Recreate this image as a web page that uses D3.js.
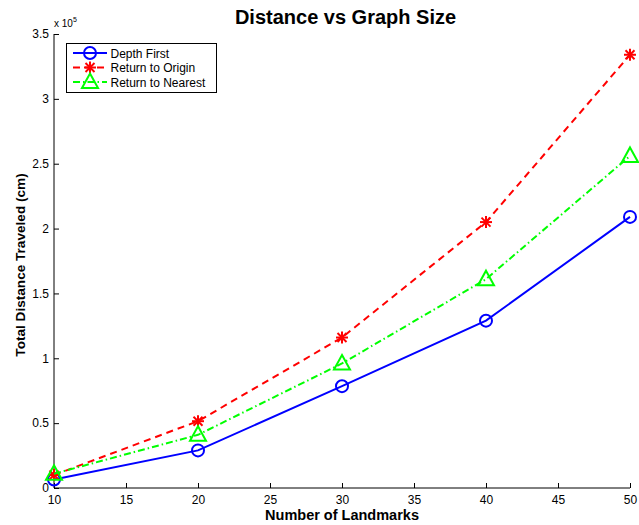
<!DOCTYPE html>
<html><head><meta charset="utf-8">
<script src="https://cdn.jsdelivr.net/npm/d3@7"></script>
<style>body{margin:0;background:#fff;} text{font-family:"Liberation Sans",Arial,sans-serif;}</style>
</head><body><svg id="c" width="639" height="525"></svg>
<script>
const landmarks = [10, 20, 30, 40, 50];
const depthFirst = [0.065, 0.29, 0.785, 1.29, 2.09];
const returnOrigin = [0.10, 0.515, 1.16, 2.05, 3.34];
const returnNearest = [0.11, 0.41, 0.96, 1.61, 2.56];
const xTicks = [10, 15, 20, 25, 30, 35, 40, 45, 50];
const yTicks = [0, 0.5, 1, 1.5, 2, 2.5, 3, 3.5];
const seriesNames = ["Depth First", "Return to Origin", "Return to Nearest"];

const svg = d3.select("#c");
const L = 54, R = 630, T = 34, B = 488;
const x = d3.scaleLinear().domain([10, 50]).range([L, R]);
const y = d3.scaleLinear().domain([0, 3.5]).range([B, T]);

const series = [
  {name: seriesNames[0], vals: depthFirst, color: "#0000ff", dash: null, marker: "circle"},
  {name: seriesNames[1], vals: returnOrigin, color: "#ff0000", dash: "7,5", marker: "star"},
  {name: seriesNames[2], vals: returnNearest, color: "#00ff00", dash: "7,3,1.5,3", marker: "triangle"}
];

// axes
const xAxis = d3.axisBottom(x).tickValues(xTicks).tickSize(-5).tickPadding(7.5).tickFormat(d3.format("d"));
const gx = svg.append("g").attr("transform", `translate(0,${B})`).call(xAxis);
const yAxis = d3.axisLeft(y).tickValues(yTicks).tickSize(-5).tickPadding(5).tickFormat(d => d === 0 ? "0" : String(d));
const gy = svg.append("g").attr("transform", `translate(${L},0)`).call(yAxis);
[gx, gy].forEach(g => {
  g.select(".domain").attr("stroke", "#000").attr("stroke-width", 1);
  g.selectAll(".tick line").attr("stroke", "#000");
  g.selectAll(".tick text").attr("font-size", 12).attr("fill", "#000").attr("font-family", "Liberation Sans, Arial, sans-serif");
});
gy.select(".domain").attr("d", `M0,${B}V${T}`);
gx.select(".domain").attr("d", `M${L},0H${R}`);

// exponent
const ex = svg.append("text").attr("x", 54).attr("y", 27).attr("font-size", 10);
ex.append("tspan").text("x 10");
ex.append("tspan").attr("font-size", 7).attr("dy", -5).text("5");

function drawMarker(g, type, cx, cy, color) {
  if (type === "circle") {
    g.append("circle").attr("cx", cx).attr("cy", cy).attr("r", 6).attr("fill", "none").attr("stroke", color).attr("stroke-width", 2);
  } else if (type === "star") {
    const s = 6;
    const p = [[-s,0,s,0],[0,-s,0,s],[-s*0.75,-s*0.75,s*0.75,s*0.75],[-s*0.75,s*0.75,s*0.75,-s*0.75]];
    p.forEach(q => g.append("line").attr("x1", cx+q[0]).attr("y1", cy+q[1]).attr("x2", cx+q[2]).attr("y2", cy+q[3]).attr("stroke", color).attr("stroke-width", 2));
  } else {
    g.append("path").attr("d", `M${cx},${cy-8.5}L${cx+8},${cy+6}L${cx-8},${cy+6}Z`).attr("fill", "none").attr("stroke", color).attr("stroke-width", 2);
  }
}

const line = d3.line().x((d, i) => x(landmarks[i])).y(d => y(d));
series.forEach(s => {
  svg.append("path").datum(s.vals).attr("d", line).attr("fill", "none").attr("stroke", s.color)
    .attr("stroke-width", 2).attr("stroke-dasharray", s.dash);
  const g = svg.append("g");
  s.vals.forEach((v, i) => drawMarker(g, s.marker, x(landmarks[i]), y(v), s.color));
});

// title and labels
svg.append("text").attr("x", 345.5).attr("y", 23.5).attr("text-anchor", "middle").attr("font-size", 20).attr("font-weight", "bold").text("Distance vs Graph Size");
svg.append("text").attr("x", 342).attr("y", 520).attr("text-anchor", "middle").attr("font-size", 14.5).attr("font-weight", "bold").text("Number of Landmarks");
svg.append("text").attr("transform", `translate(25,265) rotate(-90)`).attr("text-anchor", "middle").attr("font-size", 13.6).attr("font-weight", "bold").text("Total Distance Traveled (cm)");

// legend
const lg = svg.append("g");
lg.append("rect").attr("x", 66.5).attr("y", 43.5).attr("width", 150).attr("height", 49).attr("fill", "#fff").attr("stroke", "#000").attr("stroke-width", 1);
series.forEach((s, i) => {
  const ly = 53 + i * 14.5;
  lg.append("line").attr("x1", 73).attr("x2", 107).attr("y1", ly).attr("y2", ly).attr("stroke", s.color).attr("stroke-width", 2).attr("stroke-dasharray", s.dash);
  drawMarker(lg, s.marker, 90, ly, s.color);
  lg.append("text").attr("x", 110.5).attr("y", ly + 4.5).attr("font-size", 12).text(s.name);
});
</script></body></html>
